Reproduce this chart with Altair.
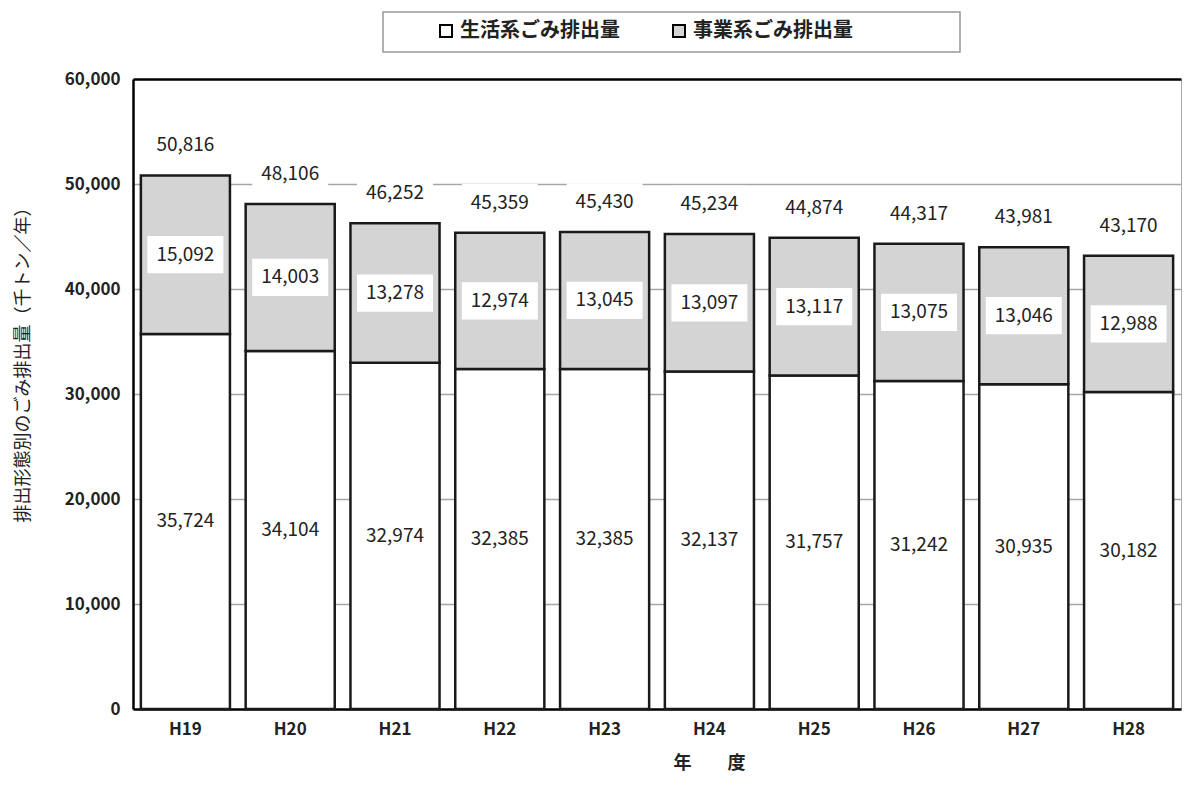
import altair as alt
import pandas as pd

years = ["H19", "H20", "H21", "H22", "H23", "H24", "H25", "H26", "H27", "H28"]
household = [35724, 34104, 32974, 32385, 32385, 32137, 31757, 31242, 30935, 30182]
business = [15092, 14003, 13278, 12974, 13045, 13097, 13117, 13075, 13046, 12988]
totals = [50816, 48106, 46252, 45359, 45430, 45234, 44874, 44317, 43981, 43170]
types = ["生活系ごみ排出量", "事業系ごみ排出量"]
y_ticks = [0, 10000, 20000, 30000, 40000, 50000, 60000]

F = "Noto Sans CJK JP"

rows = []
for i, yr in enumerate(years):
    rows.append({"year": yr, "type": types[0], "k": 0, "value": household[i],
                 "lo": 0, "hi": household[i]})
    rows.append({"year": yr, "type": types[1], "k": 1, "value": business[i],
                 "lo": household[i], "hi": household[i] + business[i]})
df = pd.DataFrame(rows)
df_tot = pd.DataFrame({"year": years, "total": totals})

xenc = alt.X(
    "year:N", sort=years, title="年　　度",
    scale=alt.Scale(paddingInner=0.15, paddingOuter=0.075),
    axis=alt.Axis(labelAngle=0, domainColor="black", domainWidth=2.5, ticks=False,
                  labelFont=F, labelFontSize=17, labelFontWeight="bold", labelColor="#222",
                  labelPadding=12, titleFont=F, titleFontSize=18, titleFontWeight="bold",
                  titleColor="#222", titleX=576, titleY=54, titleAlign="center",
                  titleBaseline="middle"),
)

yscale = alt.Scale(domain=[0, 60000], nice=False)
yaxis = alt.Axis(values=y_ticks, labelExpr="format(datum.value, ',')", ticks=False,
                 domainColor="black", domainWidth=2.5,
                 gridColor={"condition": {"test": "datum.value === 60000", "value": "black"},
                            "value": "#a6a6a6"},
                 gridWidth={"condition": {"test": "datum.value === 60000", "value": 2.5},
                            "value": 1.5},
                 labelFont=F, labelFontSize=17, labelFontWeight="bold", labelColor="#222",
                 labelPadding=13, titleFont=F, titleFontSize=18, titleFontWeight="normal",
                 titleColor="#222", titleAngle=270, titleX=-110, titleY=281,
                 titleAlign="center", titleBaseline="middle")
ytitle = "排出形態別のごみ排出量（千トン／年）"


def Y(field):
    return alt.Y(field, scale=yscale, axis=yaxis, title=ytitle)


box_shape = "M-1,-0.49L1,-0.49L1,0.49L-1,0.49Z"

# legend frame (decoration only)
legend_frame = alt.Chart(df_tot.head(1)).mark_rect(
    fill="white", stroke="#999999", strokeWidth=1.5
).encode(x=alt.value(250), x2=alt.value(827), y=alt.value(-67), y2=alt.value(-27))

bars = alt.Chart(df).mark_bar(stroke="#1a1a1a", strokeWidth=2.5).encode(
    x=xenc,
    y=Y("lo:Q"),
    y2="hi:Q",
    fill=alt.Fill("type:N", scale=alt.Scale(domain=types, range=["white", "#d4d4d4"]),
                  legend=alt.Legend(title=None, orient="none", legendX=250, legendY=-67,
                                    direction="horizontal", symbolType="square",
                                    symbolSize=144, symbolStrokeColor="black",
                                    symbolStrokeWidth=2, labelFont=F, labelFontSize=20,
                                    labelFontWeight="bold", labelColor="#222", padding=9,
                                    symbolOffset=44, columnPadding=5, labelOffset=4)),
    order=alt.Order("k:Q"),
)

seg_bg = alt.Chart(df[df.k == 1]).transform_calculate(
    mid="(datum.lo + datum.hi) / 2"
).mark_point(shape=box_shape, size=5776, filled=True, fill="white", opacity=1,
             strokeWidth=0).encode(x=xenc, y=Y("mid:Q"))

seg_text = alt.Chart(df).transform_calculate(
    mid="(datum.lo + datum.hi) / 2"
).mark_text(font=F, fontSize=19, color="#222", baseline="middle").encode(
    x=xenc, y=Y("mid:Q"), text=alt.Text("value:Q", format=",")
)

tot_bg = alt.Chart(df_tot).mark_point(shape=box_shape, size=5776, filled=True, fill="white",
                                      opacity=1, strokeWidth=0, yOffset=-30).encode(
    x=xenc, y=Y("total:Q"))

tot_text = alt.Chart(df_tot).mark_text(font=F, fontSize=19, color="#222", baseline="middle",
                                       dy=-30).encode(
    x=xenc, y=Y("total:Q"), text=alt.Text("total:Q", format=","))

chart = alt.layer(legend_frame, bars, seg_bg, seg_text, tot_bg, tot_text).properties(
    width=1048, height=630,
    autosize=alt.AutoSizeParams(type="none"),
    padding={"left": 125, "top": 71, "right": 3, "bottom": 66},
).configure_view(stroke="#aaaaaa", strokeWidth=1)

chart.save("out.html", embed_options={"renderer": "svg", "actions": False})
